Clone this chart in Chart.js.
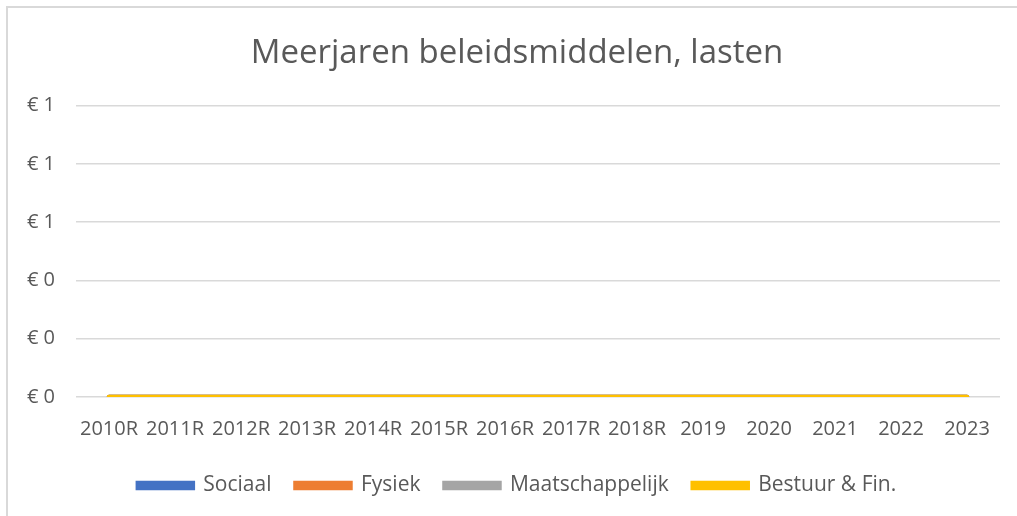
<!DOCTYPE html>
<html>
<head>
<meta charset="utf-8">
<script src="https://cdn.jsdelivr.net/npm/chart.js@4"></script>
<style>
  html, body { margin: 0; padding: 0; background: #fff; }
  #wrap { position: absolute; left: 6px; top: 6px; width: 1011px; height: 510px;
          border-left: 2px solid #d9d9d9; border-top: 2px solid #d9d9d9; box-sizing: border-box; }
  #box { position: absolute; left: 0; top: 0; width: 1009px; height: 508px; }
</style>
</head>
<body>
<div id="wrap"><div id="box"><canvas id="chart"></canvas></div></div>
<script>
const jaren = ['2010R', '2011R', '2012R', '2013R', '2014R', '2015R', '2016R', '2017R', '2018R', '2019', '2020', '2021', '2022', '2023'];
const sociaal = [0, 0, 0, 0, 0, 0, 0, 0, 0, 0, 0, 0, 0, 0];
const fysiek = [0, 0, 0, 0, 0, 0, 0, 0, 0, 0, 0, 0, 0, 0];
const maatschappelijk = [0, 0, 0, 0, 0, 0, 0, 0, 0, 0, 0, 0, 0, 0];
const bestuur = [0, 0, 0, 0, 0, 0, 0, 0, 0, 0, 0, 0, 0, 0];
const yTicks = [0, 0.2, 0.4, 0.6, 0.8, 1];

const font = "'Open Sans', 'Noto Sans', sans-serif";
const grijs = '#595959';

// laatste reeks bovenop tekenen, zoals in Excel
function lijn(label, data, kleur, volgorde) {
  return { label, data, borderColor: kleur, backgroundColor: kleur, borderWidth: 4.5,
           pointRadius: 0, tension: 0, borderCapStyle: 'round', fill: false, order: volgorde };
}

new Chart(document.getElementById('chart').getContext('2d'), {
  type: 'line',
  data: {
    labels: jaren,
    datasets: [
      lijn('Sociaal', sociaal, '#4472C4', 4),
      lijn('Fysiek', fysiek, '#ED7D31', 3),
      lijn('Maatschappelijk', maatschappelijk, '#A5A5A5', 2),
      lijn('Bestuur & Fin.', bestuur, '#FFC000', 1)
    ]
  },
  options: {
    responsive: true,
    maintainAspectRatio: false,
    animation: false,
    layout: { padding: { left: 9, right: 0, top: 0, bottom: 10 } },
    plugins: {
      title: { display: true, text: 'Meerjaren beleidsmiddelen, lasten', color: grijs,
               font: { family: font, size: 33, weight: 'normal' }, padding: { top: 26, bottom: 32 } },
      legend: { position: 'bottom',
                labels: { color: grijs, font: { family: font, size: 21 }, boxWidth: 55, boxHeight: 5,
                          padding: 24, sort: (a, b) => a.datasetIndex - b.datasetIndex } },
      tooltip: { enabled: false }
    },
    scales: {
      x: {
        offset: true,
        grid: { display: false, drawTicks: false },
        border: { display: false },
        ticks: { color: grijs, font: { family: font, size: 20 }, autoSkip: false, maxRotation: 0, padding: 20 },
        afterFit: s => { s.height = 54; }
      },
      y: {
        min: 0, max: 1,
        afterBuildTicks: ax => { ax.ticks = yTicks.map(v => ({ value: v })); },
        grid: { color: '#d9d9d9', lineWidth: 1.5, drawTicks: false },
        border: { display: false },
        ticks: { color: grijs, font: { family: font, size: 20 }, padding: 21,
                 callback: v => '€ ' + Math.round(v) },
        afterFit: s => { s.width = 59; }
      },
      // lege ruimte rechts van het plotvlak
      rechts: {
        position: 'right',
        grid: { display: false, drawTicks: false },
        border: { display: false },
        ticks: { display: false },
        afterFit: s => { s.width = 17; }
      }
    }
  }
});
</script>
</body>
</html>
